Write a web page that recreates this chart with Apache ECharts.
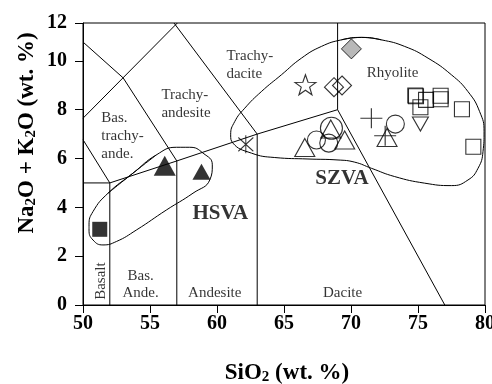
<!DOCTYPE html>
<html><head><meta charset="utf-8">
<script src="https://cdn.jsdelivr.net/npm/echarts@6/dist/echarts.min.js"></script>
<style>html,body{margin:0;padding:0;background:#fff}#c{width:492px;height:384px}</style>
</head><body><div id="c"></div>
<script>
// ---- tick labels ----
const xTickLabels = ['50','55','60','65','70','75','80'];
const yTickLabels = ['0','2','4','6','8','10','12'];

// ---- TAS field boundaries (SiO2, Na2O+K2O) ----
const tasLines = [
  [[52,0],[52,5]],
  [[57,0],[57,5.9]],
  [[63,0],[63,7]],
  [[50,5],[52,5]],
  [[50,6.77],[52,5]],
  [[52,5],[57,5.9],[63,7],[69,8]],
  [[50,10.77],[53,9.3],[57,5.9]],
  [[50,7.65],[57.04,11.55]],
  [[63,7],[56.79,11.55]],
  [[69,8],[69,11.55]],
  [[69,8],[77,0]]
];

// ---- group outlines ----
const hsvaOutline = [[53.73,5.40],[55.48,6.15],[56.97,6.46],[57.96,6.46],[58.96,6.22],[59.65,5.74],[59.46,5.12],[58.21,4.58],[56.22,3.89],[53.98,3.07],[52.49,2.60],[51.49,2.46],[50.75,2.66],[50.45,3.07],[50.45,3.28],[50.75,3.83],[51.87,4.58]];
const szvaOutline = [[70.78,10.96],[72.27,10.86],[74.01,10.59],[75.75,10.11],[77.49,9.43],[78.73,8.74],[79.6,7.92],[79.93,7.10],[79.85,6.28],[79.48,5.60],[78.73,5.12],[77.49,4.89],[75.5,4.99],[73.26,5.26],[71.52,5.60],[70.28,5.85],[69.03,5.94],[66.79,5.98],[64.31,6.04],[62.57,6.22],[61.19,6.63],[61.02,6.97],[61.32,7.51],[62.07,8.06],[63.31,8.74],[64.81,9.43],[66.3,10.11],[67.79,10.59],[69.28,10.86]];

// ---- samples ----
const hsvaSquareFilled = [[51.25,3.10]];
const hsvaTriangleLarge = [[56.1,5.70]];
const hsvaTriangleSmall = [[58.84,5.46]];
const szvaAsterisk = [[62.15,6.58]];
const szvaStar = [[66.6,9.02]];
const szvaGreyDiamond = [[70.03,10.49]];
const szvaOpenDiamond = [[68.73,8.92],[69.33,8.99]];
const szvaOpenSquare = [[74.8,8.58],[74.85,8.55],[75.18,8.10],[75.6,8.40],[76.69,8.57],[76.69,8.43],[78.28,8.02],[79.13,6.48]];
const szvaOpenTriangle = [[66.55,6.45],[68.49,7.21],[69.53,6.76],[72.69,6.86]];
const szvaOpenCircle = [[67.42,6.76],[68.34,6.63],[73.31,7.41]];
const szvaOpenCircleLarge = [[68.54,7.24]];
const szvaDownTriangle = [[75.18,7.41]];
const szvaPlus = [[71.52,7.65],[72.55,6.93]];

// ---- field names ----
const centeredNames = [['Bas.\nAnde.',[54.3,0.82]],['Andesite',[59.83,0.47]],['Dacite',[69.37,0.47]],['Rhyolite',[73.1,9.52]]];
const leftNames = [['Bas.\ntrachy-\nande.',[51.37,6.93]],['Trachy-\nandesite',[55.85,8.24]],['Trachy-\ndacite',[60.7,9.84]]];
const rotatedNames = [['Basalt',[51.37,0.98]]];
const groupNames = [['HSVA',[60.25,3.73]],['SZVA',[69.33,5.16]]];

const SERIF = '"Liberation Serif","Times New Roman",serif';
const chart = echarts.init(document.getElementById('c'), null, {renderer:'canvas'});

const series = [];
tasLines.forEach(seg => series.push({
  type:'line', data:seg, symbol:'none', silent:true,
  lineStyle:{color:'#000', width:1}
}));
function loop(pts){ const n=pts.length; return [pts[n-1]].concat(pts, [pts[0], pts[1]]); }
[hsvaOutline, szvaOutline].forEach(o => series.push({
  type:'line', data:loop(o), symbol:'none', smooth:0.5, silent:true,
  lineStyle:{color:'#000', width:1}
}));
const open = {color:'transparent', borderColor:'#000', borderWidth:1.1};
function sc(data, symbol, size, itemStyle, extra){
  series.push(Object.assign({type:'scatter', data, symbol, symbolSize:size, itemStyle, silent:true}, extra||{}));
}
sc(hsvaSquareFilled,'rect',15,{color:'#000'});
sc(hsvaTriangleLarge,'triangle',[22,20],{color:'#000'});
sc(hsvaTriangleSmall,'triangle',[18,16],{color:'#000'});
sc(szvaAsterisk,'path://M-1,-1L1,1M-1,1L1,-1M0,-1.3L0,1.3',[15,18],open);
sc(szvaStar,'path://M0,-10L2.35,-3.24L9.51,-3.09L3.8,1.24L5.88,8.09L0,4L-5.88,8.09L-3.8,1.24L-9.51,-3.09L-2.35,-3.24Z',[21,20],open);
sc(szvaGreyDiamond,'diamond',[20,20],{color:'#a6a6a6', borderColor:'#000', borderWidth:1});
sc(szvaOpenDiamond,'diamond',[19,19],open);
sc(szvaOpenSquare,'rect',15,open);
sc(szvaOpenTriangle,'triangle',[20,18],open);
sc(szvaOpenCircle,'circle',18,open);
sc(szvaOpenCircleLarge,'circle',22,open);
sc(szvaDownTriangle,'triangle',[16,14],open,{symbolRotate:180});
sc(szvaPlus,'path://M0,-1L0,1M-1,0L1,0',[22,20],open);

function labels(list, labelOpt){
  series.push({type:'scatter', silent:true, symbolSize:0, itemStyle:{color:'transparent'},
    data: list.map(([t,c]) => ({value:c, name:t})),
    label: Object.assign({show:true, position:'inside', formatter:p=>p.name, color:'#000',
      fontFamily:SERIF, fontSize:15, lineHeight:18}, labelOpt)});
}
labels(centeredNames, {align:'center', lineHeight:17});
labels(leftNames, {align:'left'});
labels(rotatedNames, {rotate:90, align:'center'});
labels(groupNames, {fontSize:21, fontWeight:'bold', align:'center'});

const titleRich = {
  a:{fontFamily:SERIF, fontSize:23, fontWeight:'bold', lineHeight:28, verticalAlign:'bottom', fill:'#000'},
  s:{fontFamily:SERIF, fontSize:15, fontWeight:'bold', lineHeight:11, verticalAlign:'bottom', fill:'#000'}
};

chart.setOption({
  animation:false,
  backgroundColor:'#fff',
  grid:{left:83, right:7, top:23, bottom:79, show:true, borderColor:'#000', borderWidth:1, backgroundColor:'transparent', outerBoundsMode:'none'},
  xAxis:{type:'value', min:50, max:80, interval:5,
    axisLine:{lineStyle:{color:'#000', width:1}},
    axisTick:{show:true, inside:false, length:8, lineStyle:{color:'#000'}},
    splitLine:{show:false},
    axisLabel:{margin:9, color:'#000', fontFamily:SERIF, fontSize:20, fontWeight:'bold',
      formatter:v => xTickLabels[Math.round((v-50)/5)] ?? ''}},
  yAxis:{type:'value', min:0, max:11.55, interval:2,
    axisLine:{lineStyle:{color:'#000', width:1}},
    axisTick:{show:true, inside:false, length:8, lineStyle:{color:'#000'}},
    splitLine:{show:false},
    axisLabel:{margin:16, color:'#000', fontFamily:SERIF, fontSize:20, fontWeight:'bold',
      formatter:v => yTickLabels[Math.round(v/2)] ?? ''}},
  graphic:[
    {type:'text', x:287, y:371, silent:true,
      style:{text:'{a|SiO}{s|2}{a| (wt. %)}', rich:titleRich, align:'center', verticalAlign:'middle'}},
    {type:'text', x:25, y:133, rotation:Math.PI/2, silent:true,
      style:{text:'{a|Na}{s|2}{a|O + K}{s|2}{a|O (wt. %)}', rich:titleRich, align:'center', verticalAlign:'middle'}}
  ],
  series
});
</script></body></html>
